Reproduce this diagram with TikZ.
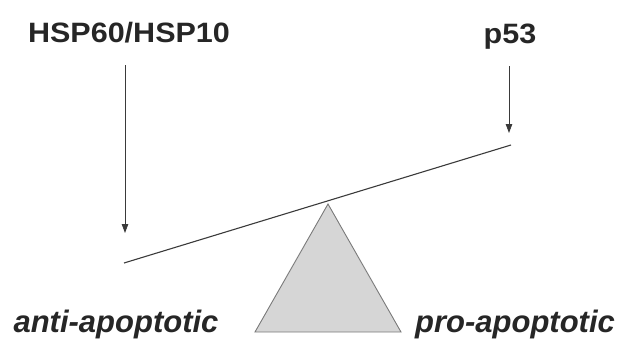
\documentclass[tikz,border=0pt]{standalone}
\usepackage{fontspec}
\setsansfont{Liberation Sans}
\usepackage{tikz}
\usetikzlibrary{arrows.meta}

\definecolor{beamgray}{HTML}{3A3A3A}
\definecolor{wedgefill}{HTML}{D6D6D6}
\definecolor{wedgeline}{HTML}{7A7A7A}

\newcommand{\wide}[1]{\scalebox{1.09}[1]{#1}}

\tikzset{
	toplabel/.style = {anchor = base, inner sep = 3pt, text height = 20pt, text depth = 6pt,
		font = \sffamily\bfseries\fontsize{28}{34}\selectfont, text = black!85},
	sidelabel/.style = {anchor = base, inner sep = 0pt,
		font = \sffamily\bfseries\itshape\fontsize{31}{37}\selectfont, text = black!85},
	push/.style = {draw = beamgray, line width = 0.8pt, -{Triangle[length = 9pt, width = 6.5pt]}, shorten <= 14pt},
}

\begin{document}
\begin{tikzpicture}[x = 1pt, y = -1pt]
			\def\w{618};
			\def\h{340};

			\useasboundingbox (0,0) rectangle (\w,\h);

			% labels
			\node[toplabel] (hsp) at (129,42) {\wide{HSP60/HSP10}};
			\node[toplabel] (p53) at (510,43) {\wide{p53}};
			\node[sidelabel] (anti) at (116,332) {anti-apoptotic};
			\node[sidelabel] (pro) at (515,332) {pro-apoptotic};

			% seesaw
			\begin{scope}
				\coordinate (top) at (328,204);
				\coordinate (baseL) at (255,332);
				\coordinate (baseR) at (401,332);
				\filldraw[fill = wedgefill, draw = wedgeline, line width = 0.9pt, line join = miter] (top) -- (baseL) -- (baseR) -- cycle;
			\end{scope}

			\begin{scope}
				\coordinate (beamL) at (124,263);
				\coordinate (beamR) at (511,145);
				\draw[beamgray, line width = 1.1pt] (beamL) -- (beamR);
			\end{scope}

			% forces
			\coordinate (tipL) at (125,233);
			\coordinate (tipR) at (509,133);
			\draw[push] (hsp.south -| tipL) -- (tipL);
			\draw[push] (p53.south -| tipR) -- (tipR);
		\end{tikzpicture}
\end{document}
